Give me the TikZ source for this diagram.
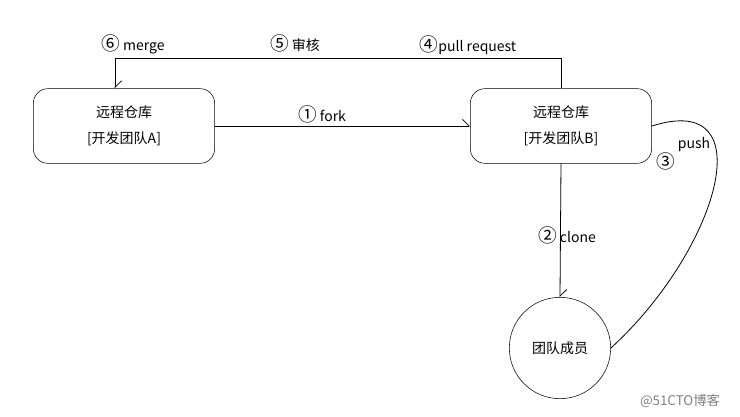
\documentclass[tikz,border=0pt]{standalone}
\usepackage{fontspec}
\setmainfont{Noto Sans CJK SC}
\usetikzlibrary{arrows.meta}
\newcommand{\circnum}[1]{{\fontsize{14}{13}\selectfont #1}}

\begin{document}
\begin{tikzpicture}[x=0.75pt,y=-0.75pt]
        \tikzset{repo/.style = {shape=rectangle,draw,rounded corners=11pt,minimum width=136pt,minimum height=56pt,align=center,font=\fontsize{10.5}{19.5}\selectfont}};
        \tikzset{member/.style = {shape=circle,draw,minimum size=76pt,font=\fontsize{10.5}{13}\selectfont}};
        \tikzset{tag/.style = {font=\fontsize{10.5}{13}\selectfont,inner sep=1pt}};
        \tikzset{edge/.style = {-{Straight Barb[left,length=5pt,width=10pt]},semithick}};
        \useasboundingbox (0,0) rectangle (740,417);
        \node[repo] (repoA) at (124,126) {远程仓库\\{[}开发团队A{]}};
        \node[repo] (repoB) at (561,126) {远程仓库\\{[}开发团队B{]}};
        \node[member] (team) at (560,348) {团队成员};
        \coordinate (mergeTop) at (115,58);
        \draw[edge] (repoA) to (repoB);
        \draw[edge] (repoB.north) |- (mergeTop) -- (mergeTop |- repoA.north);
        \draw[edge] (repoB.south) to (team.north);
        \draw[semithick] (repoB.east) .. controls (765,90) and (718,250) .. (team.east);
        \node[tag] (fork) at (322,114) {\circnum{①} fork};
        \node[tag] (clone) at (567,235) {\circnum{②} clone};
        \node[tag] (three) at (666,161) {\circnum{③}};
        \node[tag] (push) at (694,145) {push};
        \node[tag] (pr) at (468,45) {\circnum{④}pull request};
        \node[tag] (check) at (295,43) {\circnum{⑤} 审核};
        \node[tag] (merge) at (133,44) {\circnum{⑥} merge};
        \node[tag,gray,font=\fontsize{10}{12}\selectfont] (mark) at (680,401) {@51CTO博客};
    \end{tikzpicture}
\end{document}
